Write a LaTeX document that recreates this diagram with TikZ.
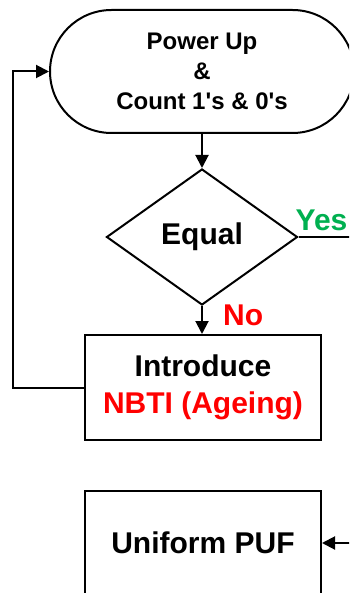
\documentclass[tikz,border=0pt]{standalone}
\usepackage{fontspec}
\setmainfont{Liberation Sans}[Ligatures=TeXOff]
\usetikzlibrary{arrows.meta,shapes.geometric,shapes.misc}
\definecolor{yesgreen}{RGB}{0,176,80}
\definecolor{nored}{RGB}{255,0,0}
\tikzset{
  flowline/.style={line width=2pt, line join=miter},
  arrowline/.style={flowline, -{Triangle[length=13pt,width=13pt]}},
  terminal/.style={draw, line width=2pt, rounded rectangle, minimum width=304pt,
    minimum height=123pt, inner sep=0pt, align=center,
    font=\bfseries\fontsize{24pt}{30pt}\selectfont},
  decision/.style={draw, line width=2pt, diamond, aspect=1.4, inner sep=0pt,
    minimum width=191pt, minimum height=136pt,
    font=\bfseries\fontsize{30pt}{36pt}\selectfont},
  process/.style={draw, line width=2pt, rectangle, minimum width=236pt,
    inner sep=0pt, align=center,
    font=\bfseries\fontsize{30pt}{39pt}\selectfont},
  branch/.style={inner sep=0pt, font=\bfseries\fontsize{30pt}{36pt}\selectfont}
}
\begin{document}
\begin{tikzpicture}[x=1pt, y=-1pt]
  \useasboundingbox (0,0) rectangle (349,593);
  \clip (0,0) rectangle (349,593);
  \fill[white] (0,0) rectangle (349,593);

  % blocks
  \node[terminal] (start) at (202,71.5) {Power Up\\\&\\Count 1's \& 0's};
  \node[decision] (equal) at (202,237) {\raisebox{-2pt}{Equal}};
  \node[process, minimum height=105pt] (intro) at (203,387.5)
    {\raisebox{-2pt}{Introduce}\\\textcolor{nored}{NBTI (Ageing)}};
  \node[process, minimum height=104pt] (puf) at (203,543) {Uniform PUF};

  % free ends on the right border
  \coordinate (yesend) at (352,237);
  \coordinate (pufin) at (352,543);
  \coordinate (loopx) at (13,0);

  % connectors
  \draw[arrowline] (start.south) -- (equal.north);
  \draw[arrowline] (equal.south) -- (equal.south |- intro.north);
  \draw[flowline] (equal.east) -- (yesend);
  \draw[arrowline] (intro.west) -- (loopx |- intro.west) |- (start.west);
  \draw[arrowline] (pufin) -- (puf.east);

  % branch labels
  \node[branch, text=yesgreen, anchor=south west] (yes) at ([xshift=-3pt,yshift=6pt]equal.east) {Yes};
  \node[branch, text=nored, anchor=west] (no) at (223,315) {No};
\end{tikzpicture}
\end{document}
